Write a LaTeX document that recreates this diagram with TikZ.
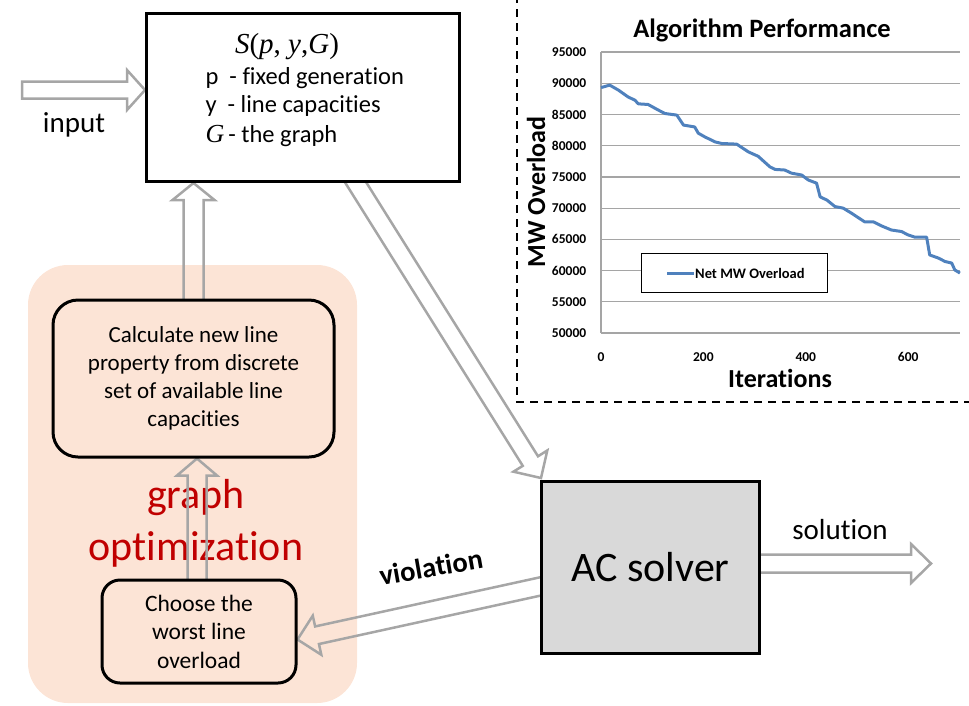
\documentclass[tikz,border=0pt]{standalone}
\usepackage{fontspec}
\setmainfont{Carlito}[Ligatures={NoCommon}]
\newfontfamily\tnr{Liberation Serif}
\usetikzlibrary{calc}
\definecolor{peach}{RGB}{252,228,214}
\definecolor{agray}{RGB}{166,166,166}
\definecolor{acgray}{RGB}{217,217,217}
\definecolor{optred}{RGB}{192,0,0}
\definecolor{lineblue}{RGB}{79,129,189}
\definecolor{gridgray}{RGB}{165,165,165}
\pgfdeclarelayer{bg}\pgfdeclarelayer{arr}\pgfsetlayers{bg,arr,main}
\newcommand\fsz[2]{\fontsize{#1}{#2}\selectfont}
\newcommand\harrow[5]{%
 \coordinate (ha-a) at #1; \coordinate (ha-b) at #2;
 \coordinate (ha-c) at ($(ha-b)!#5pt!(ha-a)$);
 \draw[hollow] ($(ha-a)!#3pt!90:(ha-b)$) -- ($(ha-c)!#3pt!90:(ha-b)$) -- ($(ha-c)!#4pt!90:(ha-b)$) -- (ha-b) -- ($(ha-c)!#4pt!-90:(ha-b)$) -- ($(ha-c)!#3pt!-90:(ha-b)$) -- ($(ha-a)!#3pt!-90:(ha-b)$) -- cycle;}
\begin{document}
\begin{tikzpicture}[x=1pt,y=-1pt,
  hollow/.style={draw=agray,line width=2.5pt,line join=miter},
  sqbox/.style={draw=black,line width=3pt,anchor=north west,inner sep=0pt},
  rbox/.style={draw=black,line width=3pt,fill=peach,align=center,inner sep=0pt},
  lbl/.style={font=\fsz{29}{32}},
  tick/.style={font=\bfseries\fsz{13.5}{16}},
  grid/.style={draw=gridgray,line width=1.2pt}]
\useasboundingbox (0,0) rectangle (969,705);
% background region
\begin{pgfonlayer}{bg}
\fill[peach, rounded corners=40pt] (28,265) rectangle (357,703);
\end{pgfonlayer}
% main boxes
\node[sqbox, fill=white, minimum width=313pt, minimum height=168pt] (S) at (145,12) {};
\node[anchor=center, font=\tnr\itshape\fsz{29}{32}] (Stitle) at (287,47) {S\upshape(\itshape p\upshape, \itshape y\upshape,\itshape G\upshape)};
\node[anchor=west, font=\fsz{24.5}{27}] (Sp) at (202,78) {p\ \ - fixed generation};
\node[anchor=west, font=\fsz{24.5}{27}] (Sy) at (202,106) {y\ \ - line capacities};
\node[anchor=west, font=\fsz{24.5}{27}] (SG) at (202,136) {{\tnr\itshape\fsz{26}{26}G}\,- the graph};
\node[lbl, anchor=center] (input) at (74,125) {input};

\node[rbox, rounded corners=25pt, minimum width=281pt, minimum height=157pt, font=\fsz{23}{28}] (calc) at (193.5,378.5)
  {Calculate new line\\property from discrete\\set of available line\\capacities};
\node[rbox, rounded corners=18pt, minimum width=194pt, minimum height=103pt, font=\fsz{23.5}{28.5}] (choose) at (199,631.5)
  {Choose the\\worst line\\overload};
\node[sqbox, fill=acgray, minimum width=218pt, minimum height=172pt] (AC) at (540,480) {};
\node[font=\fsz{42}{46}] (ACtxt) at (AC.center) {AC solver};
\node[lbl] (sol) at (840,530) {solution};
\node[lbl, rotate=10, font=\bfseries\fsz{28.5}{30}] (viol) at (431,567) {violation};

% arrows
\begin{pgfonlayer}{arr}
\node[font=\fsz{42}{52}, text=optred, align=center] (gopt) at (196,523) {graph\\optimization};
\coordinate (inbeg) at (22,90);
\harrow{(inbeg)}{(S.west |- inbeg)}{8.5}{20}{18}
\harrow{($(calc.north)+(0,15)$)}{(S.south -| calc.north)}{10}{21}{17}
\harrow{($(choose.north)+(-2,15)$)}{($(calc.south -| choose.north)+(-2,0)$)}{9.5}{20}{17}
\coordinate (sout) at ($(S.south)!0.335!(S.south east)$);
\harrow{($(sout)!-15pt!(AC.north west)$)}{($(AC.north west)+(1,-2)$)}{9}{20}{20}
\coordinate (acv) at ($(AC.west)+(0,19)$);
\coordinate (chv) at ($(choose.east)+(0,8)$);
\harrow{($(acv)!-15pt!(chv)$)}{(chv)}{9}{20}{20}
\coordinate (solend) at ($(AC.east)+(170,-4)$);
\harrow{($(AC.east)+(-15,-4)$)}{(solend)}{9}{19.5}{20}
\end{pgfonlayer}

% chart
\draw[dashed, dash pattern=on 8pt off 6pt, line width=2pt] (517,-5) -- (517,402) -- (975,402);
\node[font=\bfseries\fsz{26.5}{30}] (ctitle) at (762,30) {Algorithm Performance};
\node[font=\bfseries\fsz{26}{30}, rotate=90] (ylab) at (536,192) {MW Overload};
\node[font=\bfseries\fsz{26}{30}] (xlab) at (780,378) {Iterations};
\begin{scope}[shift={(601pt,-333pt)}, x=0.512pt, y=6.244pt]
  \foreach \v in {0,5,...,45} {
    \draw[grid] (0,\v) -- (702,\v);
    \pgfmathtruncatemacro\lab{50+\v}
    \node[tick, anchor=east] at (-22,\v) {\lab000};
  }
  \draw[grid] (0,0) -- (0,45);
  \foreach \t in {0,200,400,600} \node[tick] at (\t,-3.8) {\t};
  \draw[lineblue, line width=3pt, line join=round] (0,39.3) -- (17,39.7) -- (34,38.9) -- (53,37.8) -- (66,37.3) -- (73,36.7) -- (92,36.6) -- (112,35.7) -- (125,35.15) -- (148,34.9) -- (161,33.3) -- (183,33.0) -- (190,32.0) -- (203,31.4) -- (223,30.6) -- (236,30.35) -- (265,30.25) -- (288,29.0) -- (307,28.3) -- (330,26.6) -- (340,26.2) -- (359,26.1) -- (372,25.6) -- (392,25.3) -- (405,24.5) -- (421,24.0) -- (428,21.8) -- (441,21.3) -- (457,20.25) -- (473,20.0) -- (489,19.2) -- (515,17.8) -- (532,17.8) -- (548,17.15) -- (567,16.5) -- (587,16.25) -- (600,15.7) -- (613,15.35) -- (636,15.35) -- (642,12.5) -- (659,12.0) -- (672,11.45) -- (685,11.2) -- (691,10.1) -- (701,9.6);
\end{scope}
\node[draw=black, line width=1pt, fill=white, minimum width=186pt, minimum height=39pt, anchor=north west, inner sep=0pt] (legend) at (641,253) {};
\coordinate (lgA) at ($(legend.west)+(26,0)$);
\coordinate (lgB) at ($(legend.west)+(53,0)$);
\draw[lineblue, line width=3pt] (lgA) -- (lgB);
\node[font=\bfseries\fsz{14.5}{16}, anchor=west, inner sep=1pt] (lgtxt) at (lgB) {Net MW Overload};
\end{tikzpicture}
\end{document}
